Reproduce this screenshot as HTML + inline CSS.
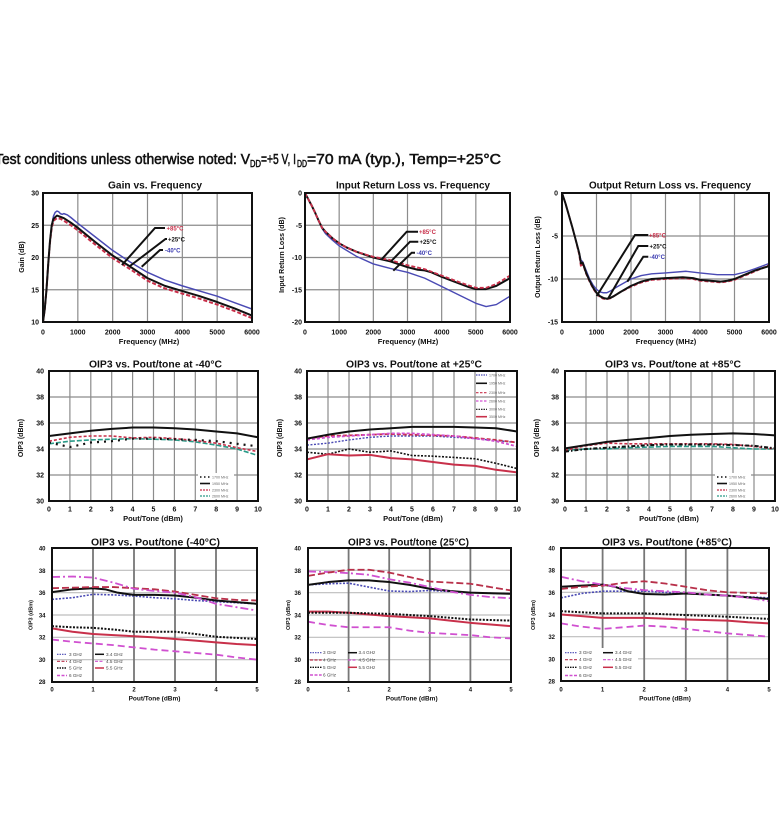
<!DOCTYPE html>
<html><head><meta charset="utf-8"><style>
html,body{margin:0;padding:0;background:#fff;}
svg{display:block}
text{font-family:"Liberation Sans",Arial,sans-serif;fill:#111}
.n{vector-effect:non-scaling-stroke;fill:none;stroke-linejoin:round;stroke-linecap:butt}
.g{stroke:#8c8c8c;stroke-width:1.2}
.gv{stroke:#777;stroke-width:1.8}
.gh{stroke:#bdbdbd;stroke-width:1.2}
.b{font-weight:bold}
.t{font-weight:bold;font-size:10px}
.tk{font-weight:bold;font-size:7px}
.tks{font-weight:bold;font-size:6px}
.lg{font-size:3.6px;fill:#666}
.lgb{font-size:4.6px;fill:#444}
</style></head><body>
<svg width="780" height="825" viewBox="0 0 780 825" xmlns="http://www.w3.org/2000/svg">
<rect width="780" height="825" fill="#fff"/>

<!-- Header -->
<g style="stroke:#111;stroke-width:0.55">
<text x="-5" y="164" font-size="15" textLength="255" lengthAdjust="spacingAndGlyphs">Test conditions unless otherwise noted: V</text>
<text x="250" y="167" font-size="10" textLength="11" lengthAdjust="spacingAndGlyphs">DD</text>
<text x="261" y="164" font-size="15" textLength="35" lengthAdjust="spacingAndGlyphs">=+5 V, I</text>
<text x="297" y="167" font-size="10" textLength="10" lengthAdjust="spacingAndGlyphs">DD</text>
<text x="307" y="164" font-size="15" textLength="194" lengthAdjust="spacingAndGlyphs">=70 mA (typ.), Temp=+25°C</text>
</g>

<!-- ================= PLOT A: Gain ================= -->
<text class="t" x="108" y="188.5" textLength="94" lengthAdjust="spacingAndGlyphs">Gain vs. Frequency</text>
<svg x="43" y="193" width="209" height="129" viewBox="0 -30 6000 20" preserveAspectRatio="none">
<path class="n g" d="M1000 -30V-10M2000 -30V-10M3000 -30V-10M4000 -30V-10M5000 -30V-10M0 -25H6000M0 -20H6000M0 -15H6000"/>
<polyline class="n" stroke="#4a4ab4" stroke-width="1.5" points="0,-10 50,-12 100,-15 150,-19 200,-22.5 250,-25 300,-26.4 350,-27 400,-27.2 450,-27.1 500,-26.8 550,-26.7 600,-26.8 700,-26.6 800,-26.2 1000,-25.3 1500,-23.2 2000,-21.1 2500,-19.3 3000,-17.7 3500,-16.5 4000,-15.6 4500,-14.8 5000,-14 5500,-13 6000,-12"/>
<polyline class="n" stroke="#c8304a" stroke-width="2" stroke-dasharray="4 2" points="0,-10 50,-12 100,-15 150,-19 200,-22.3 250,-24.6 300,-25.7 400,-26.1 500,-26 600,-25.7 800,-25 1000,-24.2 1500,-22 2000,-19.9 2500,-18.2 3000,-16.4 3500,-15.2 4000,-14.4 4500,-13.6 5000,-12.7 5500,-11.7 6000,-10.6"/>
<polyline class="n" stroke="#111" stroke-width="2" points="0,-10 50,-12 100,-15 150,-19 200,-22.5 250,-25 300,-26 400,-26.5 500,-26.3 600,-26.1 800,-25.4 1000,-24.6 1500,-22.4 2000,-20.3 2500,-18.6 3000,-16.8 3500,-15.6 4000,-14.8 4500,-14 5000,-13.1 5500,-12.1 6000,-11"/>
</svg>
<rect x="43" y="193" width="209" height="129" fill="none" stroke="#111" stroke-width="2"/>
<g fill="none" stroke="#111" stroke-width="2">
<polyline points="165,228 155,228 122,265"/>
<polyline points="167,239 165.5,239 130,266"/>
<polyline points="163,250 160,250 141.7,266.7"/>
</g>
<text class="b" x="166.5" y="230.3" font-size="6" style="fill:#c8304a">+85°C</text>
<text class="b" x="168" y="241.3" font-size="6">+25°C</text>
<text class="b" x="165" y="252.3" font-size="6" style="fill:#3a3ab0">-40°C</text>
<g class="tk" text-anchor="end">
<text x="39" y="195.5">30</text><text x="39" y="227.8">25</text><text x="39" y="260">20</text><text x="39" y="292.3">15</text><text x="39" y="324.5">10</text>
</g>
<g class="tk" text-anchor="middle">
<text x="43" y="334.5">0</text><text x="77.8" y="334.5">1000</text><text x="112.7" y="334.5">2000</text><text x="147.5" y="334.5">3000</text><text x="182.3" y="334.5">4000</text><text x="217.2" y="334.5">5000</text><text x="252" y="334.5">6000</text>
<text x="149" y="344" font-size="7.5">Frequency (MHz)</text>
<text transform="translate(24,257) rotate(-90)">Gain (dB)</text>
</g>

<!-- ================= PLOT B: Input RL ================= -->
<text class="t" x="336" y="188.5" textLength="154" lengthAdjust="spacingAndGlyphs">Input Return Loss vs. Frequency</text>
<svg x="305" y="193" width="205" height="129" viewBox="0 0 6000 20" preserveAspectRatio="none">
<path class="n g" d="M1000 0V20M2000 0V20M3000 0V20M4000 0V20M5000 0V20M0 5H6000M0 10H6000M0 15H6000"/>
<polyline class="n" stroke="#4a4ab4" stroke-width="1.4" points="0,0 100,1 200,2 300,3.1 400,4.3 500,5.5 600,6.3 800,7.3 1000,8.2 1500,9.8 2000,11 2500,11.7 3000,12.3 3500,13.2 4000,14.5 4500,15.8 5000,17.1 5300,17.6 5600,17.3 6000,16"/>
<polyline class="n" stroke="#111" stroke-width="2" points="0,0 100,1 200,2 300,3.1 400,4.3 500,5.4 600,6 800,7 1000,7.8 1200,8.4 1500,9.1 2000,10 2500,10.6 3000,11.5 3300,11.9 3500,12 3700,12.3 4000,13 4500,14 4800,14.6 5000,14.9 5300,14.9 5600,14.4 6000,13.2"/>
<polyline class="n" stroke="#c8304a" stroke-width="1.8" stroke-dasharray="4 2" points="0,0 100,1 200,2 300,3.1 400,4.3 500,5.4 600,6 800,7 1000,7.8 1200,8.4 1500,9.1 2000,9.9 2500,10.4 3000,11.2 3500,11.8 4000,12.8 4500,13.8 5000,14.7 5300,14.7 5600,14.1 6000,12.8"/>
</svg>
<rect x="305" y="193" width="205" height="129" fill="none" stroke="#111" stroke-width="2"/>
<g fill="none" stroke="#111" stroke-width="2">
<polyline points="418,231.7 406.7,231.7 381.7,259.3"/>
<polyline points="418.3,241.7 410,241.7 390.7,261.7"/>
<polyline points="415,252.7 411.7,252.7 393.3,270.7"/>
</g>
<text class="b" x="419" y="234" font-size="6" style="fill:#c8304a">+85°C</text>
<text class="b" x="419.5" y="244" font-size="6">+25°C</text>
<text class="b" x="416.5" y="255" font-size="6" style="fill:#3a3ab0">-40°C</text>
<g class="tk" text-anchor="end">
<text x="302" y="195.5">0</text><text x="302" y="227.8">-5</text><text x="302" y="260">-10</text><text x="302" y="292.3">-15</text><text x="302" y="324.5">-20</text>
</g>
<g class="tk" text-anchor="middle">
<text x="305" y="334.5">0</text><text x="339.2" y="334.5">1000</text><text x="373.3" y="334.5">2000</text><text x="407.5" y="334.5">3000</text><text x="441.7" y="334.5">4000</text><text x="475.8" y="334.5">5000</text><text x="510" y="334.5">6000</text>
<text x="408" y="344" font-size="7.5">Frequency (MHz)</text>
<text transform="translate(284,255) rotate(-90)">Input Return Loss (dB)</text>
</g>

<!-- ================= PLOT C: Output RL ================= -->
<text class="t" x="589" y="188.5" textLength="162" lengthAdjust="spacingAndGlyphs">Output Return Loss vs. Frequency</text>
<svg x="562" y="193" width="207" height="129" viewBox="0 0 6000 15" preserveAspectRatio="none">
<path class="n g" d="M1000 0V15M2000 0V15M3000 0V15M4000 0V15M5000 0V15M0 5H6000M0 10H6000"/>
<polyline class="n" stroke="#4a4ab4" stroke-width="1.4" points="0,0 100,1.2 200,2.6 300,4 400,5.5 500,7 550,7.8 600,8 700,9 800,10 900,10.7 1000,11.2 1100,11.5 1200,11.6 1300,11.6 1400,11.4 1600,10.9 2000,10 2300,9.6 2600,9.4 3000,9.3 3600,9.1 4000,9.3 4500,9.5 5000,9.5 5300,9.2 5600,8.8 6000,8.2"/>
<polyline class="n" stroke="#c8304a" stroke-width="1.8" stroke-dasharray="4 2" points="0,0 100,1.2 200,2.6 300,4 400,5.5 500,7.2 550,8.6 600,8.2 700,9.4 800,10.3 900,11.1 1000,11.7 1100,12.1 1200,12.3 1300,12.35 1400,12.25 1500,12 1700,11.5 2000,10.9 2300,10.4 2600,10.1 3000,10 3500,9.9 3800,10 4000,10.2 4300,10.3 4600,10.4 4800,10.3 5000,10.1 5300,9.6 5600,9.1 6000,8.4"/>
<polyline class="n" stroke="#111" stroke-width="2" points="0,0 100,1.2 200,2.6 300,4 400,5.5 500,7 550,8.2 600,8.1 700,9.3 800,10.2 900,11 1000,11.6 1100,12 1200,12.2 1300,12.3 1400,12.2 1500,12 1700,11.5 2000,10.8 2300,10.3 2600,10 3000,9.9 3500,9.8 3800,9.9 4000,10.1 4300,10.2 4600,10.3 4800,10.2 5000,10 5300,9.5 5600,9 6000,8.5"/>
</svg>
<rect x="562" y="193" width="207" height="129" fill="none" stroke="#111" stroke-width="2"/>
<g fill="none" stroke="#111" stroke-width="2">
<polyline points="648.3,235 635,235 596.7,296"/>
<polyline points="648.3,246 638.3,246 608.3,298.3"/>
<polyline points="648.3,256.7 643.3,256.7 627.3,281.7"/>
</g>
<text class="b" x="649" y="237.3" font-size="6" style="fill:#c8304a">+85°C</text>
<text class="b" x="649.5" y="248.3" font-size="6">+25°C</text>
<text class="b" x="649.5" y="259" font-size="6" style="fill:#3a3ab0">-40°C</text>
<g class="tk" text-anchor="end">
<text x="558" y="195.5">0</text><text x="558" y="238.5">-5</text><text x="558" y="281.5">-10</text><text x="558" y="324.5">-15</text>
</g>
<g class="tk" text-anchor="middle">
<text x="562" y="334.5">0</text><text x="596.5" y="334.5">1000</text><text x="631" y="334.5">2000</text><text x="665.5" y="334.5">3000</text><text x="700" y="334.5">4000</text><text x="734.5" y="334.5">5000</text><text x="769" y="334.5">6000</text>
<text x="666" y="344" font-size="7.5">Frequency (MHz)</text>
<text transform="translate(540,257) rotate(-90)">Output Return Loss (dB)</text>
</g>

<!-- ================= PLOT D: OIP3 -40 ================= -->
<text class="t" x="89" y="367.5" textLength="133" lengthAdjust="spacingAndGlyphs">OIP3 vs. Pout/tone at -40°C</text>
<svg x="49" y="371" width="209" height="130" viewBox="0 -40 10 10" preserveAspectRatio="none">
<path class="n g" d="M1 -40V-30M2 -40V-30M3 -40V-30M4 -40V-30M5 -40V-30M6 -40V-30M7 -40V-30M8 -40V-30M9 -40V-30M0 -38H10M0 -36H10M0 -34H10M0 -32H10"/>
<polyline class="n" stroke="#2a9a88" stroke-width="1.6" stroke-dasharray="5 2" points="0,-34.4 1,-34.6 2,-34.7 3,-34.75 4,-34.8 5,-34.75 6,-34.7 7,-34.55 8,-34.3 9,-34 10,-33.5"/>
<polyline class="n" stroke="#c8304a" stroke-width="1.6" stroke-dasharray="3 2" points="0,-34.6 1,-34.9 2,-35 3,-35 4,-34.85 5,-34.9 6,-34.8 7,-34.65 8,-34.45 9,-34.1 10,-33.8"/>
<polyline class="n" stroke="#111" stroke-width="2.2" stroke-dasharray="2 5" points="0,-34.5 1,-34.15 2,-34.5 3,-34.6 4,-34.8 5,-34.8 6,-34.75 7,-34.7 8,-34.6 9,-34.4 10,-34.2"/>
<polyline class="n" stroke="#111" stroke-width="2" points="0,-35 1,-35.2 2,-35.4 3,-35.55 4,-35.65 5,-35.65 6,-35.6 7,-35.5 8,-35.35 9,-35.2 10,-34.9"/>
</svg>
<rect x="49" y="371" width="209" height="130" fill="none" stroke="#111" stroke-width="2"/>
<g>
<rect x="198" y="473" width="36" height="26" fill="#fff"/>
<line x1="200" y1="477" x2="210" y2="477" stroke="#111" stroke-width="1.4" stroke-dasharray="1.5 2.5"/>
<line x1="200" y1="483.5" x2="210" y2="483.5" stroke="#111" stroke-width="1.6"/>
<line x1="200" y1="490" x2="210" y2="490" stroke="#c8304a" stroke-width="1.2" stroke-dasharray="2 1"/>
<line x1="200" y1="496" x2="210" y2="496" stroke="#2a9a88" stroke-width="1.2" stroke-dasharray="2 1"/>
<text class="lg" x="212" y="478.3">1700 MHz</text><text class="lg" x="212" y="484.8">1950 MHz</text><text class="lg" x="212" y="491.3">2300 MHz</text><text class="lg" x="212" y="497.3">2600 MHz</text>
</g>
<g class="tk" text-anchor="end">
<text x="44" y="373.5">40</text><text x="44" y="399.5">38</text><text x="44" y="425.5">36</text><text x="44" y="451.5">34</text><text x="44" y="477.5">32</text><text x="44" y="503.5">30</text>
</g>
<g class="tk" text-anchor="middle">
<text x="49" y="511.5">0</text><text x="69.9" y="511.5">1</text><text x="90.8" y="511.5">2</text><text x="111.7" y="511.5">3</text><text x="132.6" y="511.5">4</text><text x="153.5" y="511.5">5</text><text x="174.4" y="511.5">6</text><text x="195.3" y="511.5">7</text><text x="216.2" y="511.5">8</text><text x="237.1" y="511.5">9</text><text x="258" y="511.5">10</text>
<text x="153" y="521" font-size="7.5">Pout/Tone (dBm)</text>
<text transform="translate(23,438) rotate(-90)">OIP3 (dBm)</text>
</g>

<!-- ================= PLOT E: OIP3 +25 ================= -->
<text class="t" x="346" y="367.5" textLength="136" lengthAdjust="spacingAndGlyphs">OIP3 vs. Pout/tone at +25°C</text>
<svg x="307" y="371" width="210" height="130" viewBox="0 -40 10 10" preserveAspectRatio="none">
<path class="n g" d="M1 -40V-30M2 -40V-30M3 -40V-30M4 -40V-30M5 -40V-30M6 -40V-30M7 -40V-30M8 -40V-30M9 -40V-30M0 -38H10M0 -36H10M0 -34H10M0 -32H10"/>
<polyline class="n" stroke="#4a4ab4" stroke-width="1.4" stroke-dasharray="2 1.5" points="0,-34.3 1,-34.45 2,-34.7 3,-34.9 4,-35 5,-35 6,-35 7,-34.9 8,-34.8 9,-34.65 10,-34.5"/>
<polyline class="n" stroke="#c8304a" stroke-width="1.8" stroke-dasharray="4 2" points="0,-34.8 1,-35 2,-35.05 3,-35.1 4,-35.15 5,-35.1 6,-35.05 7,-35 8,-34.85 9,-34.7 10,-34.5"/>
<polyline class="n" stroke="#d050d0" stroke-width="1.8" stroke-dasharray="3 2" points="0,-34.7 1,-34.9 2,-35 3,-35.1 4,-35.2 5,-35.2 6,-35.1 7,-35 8,-34.8 9,-34.6 10,-34.2"/>
<polyline class="n" stroke="#111" stroke-width="2" points="0,-34.8 1,-35.1 2,-35.35 3,-35.5 4,-35.6 5,-35.7 6,-35.7 7,-35.7 8,-35.65 9,-35.6 10,-35.35"/>
<polyline class="n" stroke="#111" stroke-width="1.6" stroke-dasharray="2 1.5" points="0,-33.75 1,-33.6 2,-34 3,-33.75 4,-33.85 5,-33.5 6,-33.45 7,-33.35 8,-33.25 9,-32.9 10,-32.5"/>
<polyline class="n" stroke="#c8304a" stroke-width="2" points="0,-33.2 1,-33.6 2,-33.5 3,-33.55 4,-33.3 5,-33.2 6,-33 7,-32.8 8,-32.7 9,-32.4 10,-32.2"/>
</svg>
<rect x="307" y="371" width="210" height="130" fill="none" stroke="#111" stroke-width="2"/>
<g>
<line x1="476" y1="375" x2="487" y2="375" stroke="#4a4ab4" stroke-width="1.2" stroke-dasharray="1.5 1"/>
<line x1="476" y1="383.3" x2="487" y2="383.3" stroke="#111" stroke-width="1.6"/>
<line x1="476" y1="392.7" x2="487" y2="392.7" stroke="#c8304a" stroke-width="1.2" stroke-dasharray="2.5 1.5"/>
<line x1="476" y1="401" x2="487" y2="401" stroke="#d050d0" stroke-width="1.2" stroke-dasharray="2.5 1.5"/>
<line x1="476" y1="409.3" x2="487" y2="409.3" stroke="#111" stroke-width="1.2" stroke-dasharray="1.5 1"/>
<line x1="476" y1="416.7" x2="487" y2="416.7" stroke="#c8304a" stroke-width="1.6"/>
<text class="lg" x="489" y="376.3">1700 MHz</text><text class="lg" x="489" y="384.6">1950 MHz</text><text class="lg" x="489" y="394">2300 MHz</text><text class="lg" x="489" y="402.3">2600 MHz</text><text class="lg" x="489" y="410.6">3000 MHz</text><text class="lg" x="489" y="418">3500 MHz</text>
</g>
<g class="tk" text-anchor="end">
<text x="302" y="373.5">40</text><text x="302" y="399.5">38</text><text x="302" y="425.5">36</text><text x="302" y="451.5">34</text><text x="302" y="477.5">32</text><text x="302" y="503.5">30</text>
</g>
<g class="tk" text-anchor="middle">
<text x="307" y="511.5">0</text><text x="328" y="511.5">1</text><text x="349" y="511.5">2</text><text x="370" y="511.5">3</text><text x="391" y="511.5">4</text><text x="412" y="511.5">5</text><text x="433" y="511.5">6</text><text x="454" y="511.5">7</text><text x="475" y="511.5">8</text><text x="496" y="511.5">9</text><text x="517" y="511.5">10</text>
<text x="413" y="521" font-size="7.5">Pout/Tone (dBm)</text>
<text transform="translate(282,438) rotate(-90)">OIP3 (dBm)</text>
</g>

<!-- ================= PLOT F: OIP3 +85 ================= -->
<text class="t" x="605" y="367.5" textLength="136" lengthAdjust="spacingAndGlyphs">OIP3 vs. Pout/tone at +85°C</text>
<svg x="565" y="371" width="210" height="130" viewBox="0 -40 10 10" preserveAspectRatio="none">
<path class="n g" d="M1 -40V-30M2 -40V-30M3 -40V-30M4 -40V-30M5 -40V-30M6 -40V-30M7 -40V-30M8 -40V-30M9 -40V-30M0 -38H10M0 -36H10M0 -34H10M0 -32H10"/>
<polyline class="n" stroke="#2a9a88" stroke-width="1.6" stroke-dasharray="5 2" points="0,-33.9 1,-34 2,-34 3,-34.1 4,-34.15 5,-34.2 6,-34.2 7,-34.2 8,-34.1 9,-34 10,-34"/>
<polyline class="n" stroke="#c8304a" stroke-width="1.6" stroke-dasharray="3 2" points="0,-33.9 1,-34.25 2,-34.45 3,-34.4 4,-34.4 5,-34.4 6,-34.4 7,-34.4 8,-34.35 9,-34.2 10,-34"/>
<polyline class="n" stroke="#111" stroke-width="2" stroke-dasharray="4 2 1.5 2" points="0,-33.8 1,-34 2,-34.1 3,-34.2 4,-34.3 5,-34.35 6,-34.35 7,-34.35 8,-34.3 9,-34.25 10,-34.05"/>
<polyline class="n" stroke="#111" stroke-width="2" points="0,-34.05 1,-34.3 2,-34.55 3,-34.7 4,-34.85 5,-35 6,-35.1 7,-35.15 8,-35.2 9,-35.15 10,-35.05"/>
</svg>
<rect x="565" y="371" width="210" height="130" fill="none" stroke="#111" stroke-width="2"/>
<g>
<rect x="715" y="473" width="36" height="26" fill="#fff"/>
<line x1="717" y1="477" x2="727" y2="477" stroke="#111" stroke-width="1.4" stroke-dasharray="1.5 2.5"/>
<line x1="717" y1="483.5" x2="727" y2="483.5" stroke="#111" stroke-width="1.6"/>
<line x1="717" y1="490" x2="727" y2="490" stroke="#c8304a" stroke-width="1.2" stroke-dasharray="2 1"/>
<line x1="717" y1="496" x2="727" y2="496" stroke="#2a9a88" stroke-width="1.2" stroke-dasharray="2 1"/>
<text class="lg" x="729" y="478.3">1700 MHz</text><text class="lg" x="729" y="484.8">1950 MHz</text><text class="lg" x="729" y="491.3">2300 MHz</text><text class="lg" x="729" y="497.3">2600 MHz</text>
</g>
<g class="tk" text-anchor="end">
<text x="559" y="373.5">40</text><text x="559" y="399.5">38</text><text x="559" y="425.5">36</text><text x="559" y="451.5">34</text><text x="559" y="477.5">32</text><text x="559" y="503.5">30</text>
</g>
<g class="tk" text-anchor="middle">
<text x="565" y="511.5">0</text><text x="586" y="511.5">1</text><text x="607" y="511.5">2</text><text x="628" y="511.5">3</text><text x="649" y="511.5">4</text><text x="670" y="511.5">5</text><text x="691" y="511.5">6</text><text x="712" y="511.5">7</text><text x="733" y="511.5">8</text><text x="754" y="511.5">9</text><text x="775" y="511.5">10</text>
<text x="669" y="521" font-size="7.5">Pout/Tone (dBm)</text>
<text transform="translate(539,438) rotate(-90)">OIP3 (dBm)</text>
</g>

<!-- ================= PLOT G: bottom -40 ================= -->
<text class="t" x="91" y="545.5" textLength="129" lengthAdjust="spacingAndGlyphs">OIP3 vs. Pout/tone (-40°C)</text>
<svg x="52" y="548" width="205" height="134" viewBox="0 -40 5 12" preserveAspectRatio="none">
<path class="n gh" d="M0 -38H5M0 -36H5M0 -34H5M0 -32H5M0 -30H5"/>
<path class="n gv" d="M1 -40V-28M2 -40V-28M3 -40V-28M4 -40V-28"/>
<polyline class="n" stroke="#d050d0" stroke-width="1.8" stroke-dasharray="7 4" points="0,-31.8 0.5,-31.6 1,-31.45 1.5,-31.3 2,-31.1 2.5,-30.9 3,-30.75 3.5,-30.6 4,-30.45 4.5,-30.2 5,-30.0"/>
<polyline class="n" stroke="#c8304a" stroke-width="2" points="0,-32.8 0.5,-32.5 1,-32.3 1.5,-32.2 2,-32.1 2.5,-32 3,-31.85 3.5,-31.7 4,-31.55 4.5,-31.4 5,-31.3"/>
<polyline class="n" stroke="#111" stroke-width="2" stroke-dasharray="2 1.5" points="0,-33 0.5,-32.9 1,-32.85 1.5,-32.7 2,-32.5 2.5,-32.5 3,-32.5 3.5,-32.3 4,-32.05 4.5,-31.95 5,-31.85"/>
<polyline class="n" stroke="#4a4ab4" stroke-width="1.6" stroke-dasharray="2 1.5" points="0,-35.4 0.5,-35.55 1,-35.85 1.5,-35.8 2,-35.7 2.5,-35.55 3,-35.45 3.5,-35.3 4,-35.2 4.5,-35.1 5,-35.0"/>
<polyline class="n" stroke="#111" stroke-width="2" points="0,-36.05 0.5,-36.3 1,-36.4 1.3,-36.3 1.6,-36 2,-35.8 2.5,-35.8 3,-35.75 3.5,-35.55 4,-35.3 4.5,-35.15 5,-35.0"/>
<polyline class="n" stroke="#b8304a" stroke-width="1.8" stroke-dasharray="7 3" points="0,-36.4 0.5,-36.45 1,-36.5 1.5,-36.5 2,-36.4 2.5,-36.3 3,-36.1 3.5,-35.8 4,-35.5 4.5,-35.35 5,-35.3"/>
<polyline class="n" stroke="#d050d0" stroke-width="1.8" stroke-dasharray="8 3 2 3" points="0,-37.4 0.5,-37.45 1,-37.35 1.5,-36.9 2,-36.35 2.5,-36.15 3,-36.0 3.5,-35.6 4,-35.0 4.5,-34.7 5,-34.4"/>
</svg>
<rect x="52" y="548" width="205" height="134" fill="none" stroke="#111" stroke-width="2"/>
<g>
<line x1="57" y1="654.3" x2="67" y2="654.3" stroke="#4a4ab4" stroke-width="1.2" stroke-dasharray="1.5 1"/>
<line x1="57" y1="661.3" x2="67" y2="661.3" stroke="#b8304a" stroke-width="1.2" stroke-dasharray="3 1.5"/>
<line x1="57" y1="668" x2="67" y2="668" stroke="#111" stroke-width="1.4" stroke-dasharray="1.5 1"/>
<line x1="57" y1="675.5" x2="67" y2="675.5" stroke="#d050d0" stroke-width="1.4" stroke-dasharray="3 1.5"/>
<line x1="95" y1="654.3" x2="104" y2="654.3" stroke="#111" stroke-width="1.5"/>
<line x1="95" y1="661.3" x2="104" y2="661.3" stroke="#d050d0" stroke-width="1.2" stroke-dasharray="3 1.5"/>
<line x1="95" y1="668" x2="104" y2="668" stroke="#c8304a" stroke-width="1.5"/>
<text class="lgb" x="69" y="655.8">3 GHz</text><text class="lgb" x="69" y="662.8">4 GHz</text><text class="lgb" x="69" y="669.5">5 GHz</text><text class="lgb" x="69" y="677">6 GHz</text>
<text class="lgb" x="106" y="655.8">3.4 GHz</text><text class="lgb" x="106" y="662.8">4.5 GHz</text><text class="lgb" x="106" y="669.5">5.5 GHz</text>
</g>
<g class="tks" text-anchor="end">
<text x="45.5" y="550.5">40</text><text x="45.5" y="572.8">38</text><text x="45.5" y="595">36</text><text x="45.5" y="617.3">34</text><text x="45.5" y="639.5">32</text><text x="45.5" y="661.8">30</text><text x="45.5" y="684">28</text>
</g>
<g class="tks" text-anchor="middle">
<text x="52" y="691.5">0</text><text x="93" y="691.5">1</text><text x="134" y="691.5">2</text><text x="175" y="691.5">3</text><text x="216" y="691.5">4</text><text x="257" y="691.5">5</text>
<text x="154.5" y="700.5" font-size="6.5">Pout/Tone (dBm)</text>
<text transform="translate(32.5,615) rotate(-90)" font-size="5.5">OIP3 (dBm)</text>
</g>

<!-- ================= PLOT H: bottom 25 ================= -->
<text class="t" x="348" y="545.5" textLength="121" lengthAdjust="spacingAndGlyphs">OIP3 vs. Pout/tone (25°C)</text>
<svg x="308" y="548" width="203" height="134" viewBox="0 -40 5 12" preserveAspectRatio="none">
<path class="n gh" d="M0 -38H5M0 -36H5M0 -34H5M0 -32H5M0 -30H5"/>
<path class="n gv" d="M1 -40V-28M2 -40V-28M3 -40V-28M4 -40V-28"/>
<polyline class="n" stroke="#d050d0" stroke-width="1.8" stroke-dasharray="7 4" points="0,-33.4 0.5,-33.1 1,-32.9 1.5,-32.9 2,-32.9 2.5,-32.6 3,-32.4 3.5,-32.3 4,-32.2 4.5,-32 5,-31.9"/>
<polyline class="n" stroke="#c8304a" stroke-width="2" points="0,-34.3 0.5,-34.3 1,-34.2 1.5,-34.05 2,-33.9 2.5,-33.8 3,-33.7 3.5,-33.5 4,-33.3 4.5,-33.15 5,-33.0"/>
<polyline class="n" stroke="#111" stroke-width="2" stroke-dasharray="2 1.5" points="0,-34.2 1,-34.2 2,-34.1 3,-33.9 4,-33.6 5,-33.5"/>
<polyline class="n" stroke="#4a4ab4" stroke-width="1.6" stroke-dasharray="2 1.5" points="0,-36.7 0.5,-36.8 1,-36.85 1.5,-36.5 2,-36.15 2.5,-36.1 3,-36.2 3.5,-36.1 4,-36 4.5,-35.95 5,-35.9"/>
<polyline class="n" stroke="#111" stroke-width="2" points="0,-36.7 0.5,-36.95 1,-37.1 1.5,-37.1 2,-36.95 2.5,-36.7 3,-36.35 3.5,-36.15 4,-36.0 4.5,-35.95 5,-35.9"/>
<polyline class="n" stroke="#d050d0" stroke-width="1.8" stroke-dasharray="8 3 2 3" points="0,-37.9 0.5,-37.85 1,-37.75 1.5,-37.6 2,-37.2 2.5,-36.9 3,-36.5 3.5,-36.1 4,-35.8 4.5,-35.6 5,-35.5"/>
<polyline class="n" stroke="#b8304a" stroke-width="1.8" stroke-dasharray="7 3" points="0,-37.5 0.5,-37.8 1,-38.05 1.5,-38.05 2,-37.8 2.5,-37.4 3,-37.0 3.5,-36.9 4,-36.8 4.5,-36.5 5,-36.2"/>
</svg>
<rect x="308" y="548" width="203" height="134" fill="none" stroke="#111" stroke-width="2"/>
<g>
<line x1="310" y1="652.7" x2="321.7" y2="652.7" stroke="#4a4ab4" stroke-width="1.2" stroke-dasharray="1.5 1"/>
<line x1="310" y1="660" x2="321.7" y2="660" stroke="#b8304a" stroke-width="1.2" stroke-dasharray="3 1.5"/>
<line x1="310" y1="667.3" x2="321.7" y2="667.3" stroke="#111" stroke-width="1.4" stroke-dasharray="1.5 1"/>
<line x1="310" y1="675" x2="321.7" y2="675" stroke="#d050d0" stroke-width="1.4" stroke-dasharray="3 1.5"/>
<line x1="348" y1="652.7" x2="357" y2="652.7" stroke="#111" stroke-width="1.5"/>
<line x1="348" y1="660" x2="357" y2="660" stroke="#d050d0" stroke-width="1.2" stroke-dasharray="3 1.5"/>
<line x1="348" y1="667.3" x2="357" y2="667.3" stroke="#c8304a" stroke-width="1.5"/>
<text class="lgb" x="323" y="654.2">3 GHz</text><text class="lgb" x="323" y="661.5">4 GHz</text><text class="lgb" x="323" y="668.8">5 GHz</text><text class="lgb" x="323" y="676.5">6 GHz</text>
<text class="lgb" x="358.5" y="654.2">3.4 GHz</text><text class="lgb" x="358.5" y="661.5">4.5 GHz</text><text class="lgb" x="358.5" y="668.8">5.5 GHz</text>
</g>
<g class="tks" text-anchor="end">
<text x="301" y="550.5">40</text><text x="301" y="572.8">38</text><text x="301" y="595">36</text><text x="301" y="617.3">34</text><text x="301" y="639.5">32</text><text x="301" y="661.8">30</text><text x="301" y="684">28</text>
</g>
<g class="tks" text-anchor="middle">
<text x="308" y="691.5">0</text><text x="348.6" y="691.5">1</text><text x="389.2" y="691.5">2</text><text x="429.8" y="691.5">3</text><text x="470.4" y="691.5">4</text><text x="511" y="691.5">5</text>
<text x="411.7" y="700.5" font-size="6.5">Pout/Tone (dBm)</text>
<text transform="translate(290,615) rotate(-90)" font-size="5.5">OIP3 (dBm)</text>
</g>

<!-- ================= PLOT I: bottom +85 ================= -->
<text class="t" x="602" y="545.5" textLength="130" lengthAdjust="spacingAndGlyphs">OIP3 vs. Pout/tone (+85°C)</text>
<svg x="561" y="548" width="208" height="133" viewBox="0 -40 5 12" preserveAspectRatio="none">
<path class="n gh" d="M0 -38H5M0 -36H5M0 -34H5M0 -32H5M0 -30H5"/>
<path class="n gv" d="M1 -40V-28M2 -40V-28M3 -40V-28M4 -40V-28"/>
<polyline class="n" stroke="#d050d0" stroke-width="1.8" stroke-dasharray="7 4" points="0,-33.2 0.5,-32.9 1,-32.7 1.5,-32.85 2,-33 2.5,-32.9 3,-32.7 3.5,-32.5 4,-32.3 4.5,-32.15 5,-32"/>
<polyline class="n" stroke="#c8304a" stroke-width="2" points="0,-34 0.5,-33.85 1,-33.7 2,-33.7 3,-33.55 4,-33.45 4.5,-33.3 5,-33.2"/>
<polyline class="n" stroke="#111" stroke-width="2" stroke-dasharray="2 1.5" points="0,-34.3 0.5,-34.2 1,-34.1 2,-34.1 3,-33.95 4,-33.8 5,-33.6"/>
<polyline class="n" stroke="#4a4ab4" stroke-width="1.6" stroke-dasharray="2 1.5" points="0,-35.5 0.5,-35.9 1,-36.1 1.5,-36.1 2,-36.1 2.5,-36 3,-35.9 3.5,-35.8 4,-35.7 4.5,-35.6 5,-35.5"/>
<polyline class="n" stroke="#111" stroke-width="2" points="0,-36.5 0.5,-36.6 1,-36.7 1.3,-36.5 1.6,-36.1 2,-35.85 2.5,-35.8 3,-35.9 3.5,-35.8 4,-35.7 4.5,-35.55 5,-35.4"/>
<polyline class="n" stroke="#b8304a" stroke-width="1.8" stroke-dasharray="7 3" points="0,-36.3 0.5,-36.5 1,-36.6 1.5,-36.85 2,-37 2.5,-36.8 3,-36.5 3.5,-36.2 4,-36 4.5,-35.95 5,-35.9"/>
<polyline class="n" stroke="#d050d0" stroke-width="1.8" stroke-dasharray="8 3 2 3" points="0,-37.4 0.5,-37.0 1,-36.7 1.5,-36.4 2,-36.2 2.5,-36.1 3,-36 3.5,-35.8 4,-35.7 4.5,-35.5 5,-35.2"/>
</svg>
<rect x="562" y="648" width="76" height="32" fill="#fff"/>
<rect x="561" y="548" width="208" height="133" fill="none" stroke="#111" stroke-width="2"/>
<g>
<line x1="565" y1="652.7" x2="577" y2="652.7" stroke="#4a4ab4" stroke-width="1.2" stroke-dasharray="1.5 1"/>
<line x1="565" y1="659.7" x2="577" y2="659.7" stroke="#b8304a" stroke-width="1.2" stroke-dasharray="3 1.5"/>
<line x1="565" y1="667.3" x2="577" y2="667.3" stroke="#111" stroke-width="1.4" stroke-dasharray="1.5 1"/>
<line x1="565" y1="675.5" x2="577" y2="675.5" stroke="#d050d0" stroke-width="1.4" stroke-dasharray="3 1.5"/>
<line x1="603" y1="652.7" x2="613" y2="652.7" stroke="#111" stroke-width="1.5"/>
<line x1="603" y1="659.7" x2="613" y2="659.7" stroke="#d050d0" stroke-width="1.2" stroke-dasharray="3 1.5"/>
<line x1="603" y1="667.3" x2="613" y2="667.3" stroke="#c8304a" stroke-width="1.5"/>
<text class="lgb" x="579" y="654.2">3 GHz</text><text class="lgb" x="579" y="661.2">4 GHz</text><text class="lgb" x="579" y="668.8">5 GHz</text><text class="lgb" x="579" y="677">6 GHz</text>
<text class="lgb" x="615" y="654.2">3.4 GHz</text><text class="lgb" x="615" y="661.2">4.5 GHz</text><text class="lgb" x="615" y="668.8">5.5 GHz</text>
</g>
<g class="tks" text-anchor="end">
<text x="555" y="550.5">40</text><text x="555" y="572.6">38</text><text x="555" y="594.8">36</text><text x="555" y="617">34</text><text x="555" y="639.1">32</text><text x="555" y="661.3">30</text><text x="555" y="683.5">28</text>
</g>
<g class="tks" text-anchor="middle">
<text x="561" y="691.5">0</text><text x="602.6" y="691.5">1</text><text x="644.2" y="691.5">2</text><text x="685.8" y="691.5">3</text><text x="727.4" y="691.5">4</text><text x="769" y="691.5">5</text>
<text x="665" y="700.5" font-size="6.5">Pout/Tone (dBm)</text>
<text transform="translate(535,615) rotate(-90)" font-size="5.5">OIP3 (dBm)</text>
</g>
</svg>
</body></html>
